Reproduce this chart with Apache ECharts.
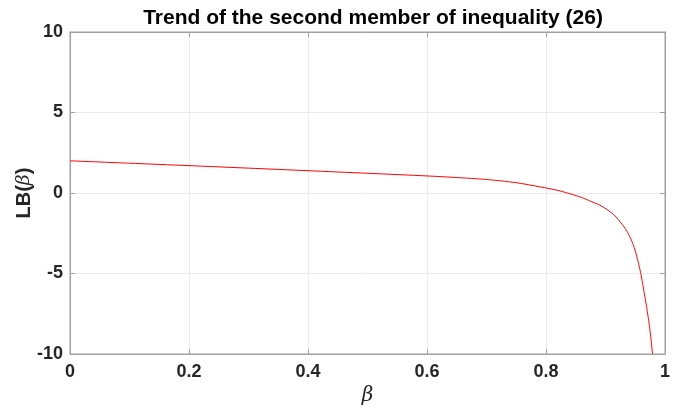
<!DOCTYPE html>
<html>
<head>
<meta charset="utf-8">
<script src="https://cdn.jsdelivr.net/npm/echarts@6/dist/echarts.min.js"></script>
<style>
  html, body { margin: 0; padding: 0; background: #fff; }
  #chart { width: 697px; height: 408px; }
</style>
</head>
<body>
<div id="chart"></div>
<script>
// Lower bound LB(beta) sampled along beta
const betaValues = [0, 0.1, 0.2, 0.3, 0.4, 0.5, 0.6, 0.65, 0.7, 0.75, 0.79, 0.82, 0.845, 0.86, 0.873, 0.89, 0.9015, 0.914, 0.924, 0.933, 0.9407, 0.947, 0.952, 0.956, 0.959, 0.963, 0.966, 0.969, 0.9715, 0.974, 0.976, 0.979];
const lbValues = [2.0, 1.85, 1.70, 1.545, 1.385, 1.225, 1.06, 0.96, 0.84, 0.64, 0.38, 0.16, -0.1, -0.28, -0.48, -0.75, -1.0, -1.35, -1.76, -2.2, -2.7, -3.25, -3.85, -4.45, -4.95, -5.75, -6.4, -7.05, -7.66, -8.3, -8.9, -10.0];
const xTicks = [0, 0.2, 0.4, 0.6, 0.8, 1];
const yTicks = [-10, -5, 0, 5, 10];

const points = betaValues.map((b, i) => [b, lbValues[i]]);

const labelFont = {
  fontFamily: 'Liberation Sans, Arial, sans-serif',
  fontWeight: 'bold',
  fontSize: 18,
  color: '#262626'
};

const axisGray = '#a0a0a0';

const chart = echarts.init(document.getElementById('chart'), null, { renderer: 'canvas' });

chart.setOption({
  animation: false,
  backgroundColor: '#ffffff',
  title: {
    text: 'Trend of the second member of inequality (26)',
    left: 368,
    top: 3,
    textAlign: 'center',
    textStyle: {
      fontFamily: 'Liberation Sans, Arial, sans-serif',
      fontWeight: 'bold',
      fontSize: 21,
      color: '#000000'
    }
  },
  grid: {
    left: 70, right: 32, top: 32, bottom: 54,
    containLabel: false,
    outerBoundsMode: 'none',
    show: true, borderColor: axisGray, borderWidth: 1
  },
  xAxis: [{
    type: 'value',
    min: xTicks[0], max: xTicks[xTicks.length - 1], interval: 0.2,
    name: 'β',
    nameLocation: 'middle',
    nameGap: 32,
    nameMoveOverlap: false,
    nameTextStyle: { fontFamily: 'DejaVu Serif, serif', fontStyle: 'italic', fontSize: 20, color: '#262626' },
    axisLine: { show: true, onZero: false, lineStyle: { color: axisGray } },
    axisTick: { inside: true, length: 5, lineStyle: { color: axisGray } },
    axisLabel: Object.assign({ margin: 9, formatter: v => String(+v.toFixed(1)) }, labelFont),
    splitLine: { show: true, lineStyle: { color: '#ebebeb' } }
  }, {
    type: 'value', position: 'top',
    min: xTicks[0], max: xTicks[xTicks.length - 1], interval: 0.2,
    axisLine: { show: true, onZero: false, lineStyle: { color: axisGray } },
    axisTick: { inside: true, length: 5, lineStyle: { color: axisGray } },
    axisLabel: { show: false }, splitLine: { show: false }
  }],
  yAxis: [{
    type: 'value',
    min: yTicks[0], max: yTicks[yTicks.length - 1], interval: 5,
    name: '{b|LB(}{i|β}{b|)}',
    nameLocation: 'middle',
    nameGap: 36,
    nameMoveOverlap: false,
    nameRotate: 90,
    nameTextStyle: {
      rich: {
        b: { fontFamily: 'Liberation Sans, Arial, sans-serif', fontWeight: 'bold', fontSize: 20, color: '#262626' },
        i: { fontFamily: 'DejaVu Serif, serif', fontStyle: 'italic', fontSize: 19, color: '#262626' }
      }
    },
    axisLine: { show: true, onZero: false, lineStyle: { color: axisGray } },
    axisTick: { inside: true, length: 5, lineStyle: { color: axisGray } },
    axisLabel: Object.assign({ margin: 7 }, labelFont),
    splitLine: { show: true, lineStyle: { color: '#ebebeb' } }
  }, {
    type: 'value', position: 'right',
    min: yTicks[0], max: yTicks[yTicks.length - 1], interval: 5,
    axisLine: { show: true, onZero: false, lineStyle: { color: axisGray } },
    axisTick: { inside: true, length: 5, lineStyle: { color: axisGray } },
    axisLabel: { show: false }, splitLine: { show: false }
  }],
  series: [{
    type: 'line',
    data: points,
    smooth: 0.25,
    showSymbol: false,
    clip: true,
    lineStyle: { color: '#ff0000', width: 1 }
  }]
});
</script>
</body>
</html>
